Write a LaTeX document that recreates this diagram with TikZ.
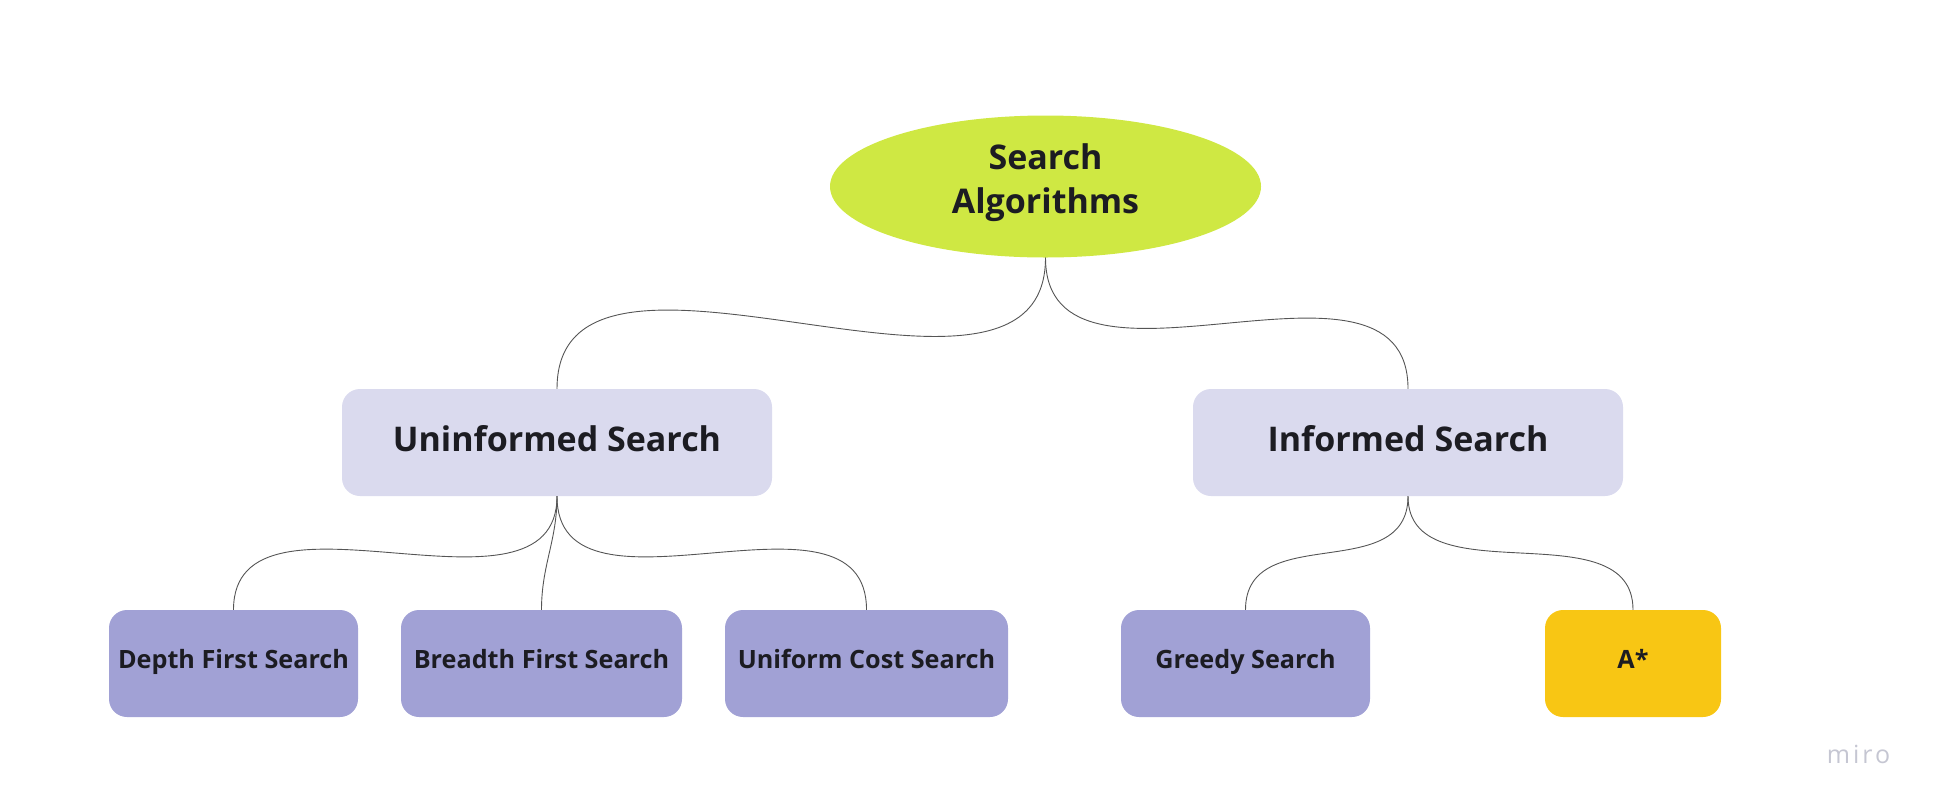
\documentclass[tikz,border=0pt]{standalone}
\usepackage{fontspec}
\setmainfont{Open Sans}
\newfontfamily\logofont[LetterSpace=12]{Open Sans}
\usetikzlibrary{shapes.geometric}

\definecolor{rootfill}{RGB}{207,232,67}
\definecolor{groupfill}{RGB}{218,218,238}
\definecolor{leaffill}{RGB}{161,161,213}
\definecolor{goldfill}{RGB}{248,198,20}
\definecolor{inkcol}{RGB}{28,28,34}
\definecolor{linkcol}{RGB}{85,85,85}
\definecolor{logocol}{RGB}{197,198,210}

\tikzset{
  rootnode/.style={ellipse, fill=rootfill, inner sep=0pt,
    minimum width=431pt, minimum height=142pt},
  roottext/.style={align=center, inner sep=0pt, text=inkcol,
    font=\fontsize{34}{44}\selectfont\bfseries},
  groupnode/.style={rectangle, rounded corners=18pt, fill=groupfill,
    minimum width=430pt, minimum height=107pt, inner sep=0pt,
    text=inkcol, text height=25.8pt, text depth=8.5pt,
    font=\fontsize{34}{40}\selectfont\bfseries},
  leafnode/.style={rectangle, rounded corners=18pt, fill=leaffill,
    minimum height=107pt, inner sep=0pt,
    text=inkcol, text height=17.8pt, text depth=8.8pt,
    font=\fontsize{25.2}{30}\selectfont\bfseries},
  goldnode/.style={leafnode, fill=goldfill},
  link/.style={draw=linkcol, line width=0.9pt}
}

\begin{document}
\begin{tikzpicture}[x=1pt, y=-1pt]
  \useasboundingbox (0,0) rectangle (1934,807);

  % root ellipse and its two-line title
  \node[rootnode] (root) at (1045.5,186.5) {};
  \node[roottext] (roottitle) at (1045.5,183) {Search\\Algorithms};

  % second level
  \node[groupnode] (unin) at (557,442.5) {Uninformed Search};
  \node[groupnode] (info) at (1408,442.5) {Informed Search};

  % leaves
  \node[leafnode, minimum width=249pt] (dfs) at (233.5,663.5) {Depth First Search};
  \node[leafnode, minimum width=281pt] (bfs) at (541.5,663.5) {Breadth First Search};
  \node[leafnode, minimum width=283pt] (ucs) at (866.5,663.5) {Uniform Cost Search};
  \node[leafnode, minimum width=249pt] (gs)  at (1245.5,663.5) {Greedy Search};
  \node[goldnode, minimum width=176pt] (ast) at (1633,663.5) {A*};

  % watermark
  \node[anchor=base, text=logocol, inner sep=0pt,
        font=\logofont\fontsize{25}{30}\selectfont] (logo) at (1858.5,763) {miro};

  % connectors
  \draw[link] (root.south) .. controls +(0,200) and +(0,-200) .. (unin.north);
  \draw[link] (root.south) .. controls +(0,165) and +(0,-165) .. (info.north);

  \draw[link] (unin.south) .. controls +(0,140) and +(0,-140) .. (dfs.north);
  \draw[link] (unin.south) .. controls +(0,45) and +(0,-45) .. (bfs.north);
  \draw[link] (unin.south) .. controls +(0,140) and +(0,-140) .. (ucs.north);

  \draw[link] (info.south) .. controls +(0,90) and +(0,-90) .. (gs.north);
  \draw[link] (info.south) .. controls +(0,102) and +(0,-102) .. (ast.north);
\end{tikzpicture}
\end{document}
